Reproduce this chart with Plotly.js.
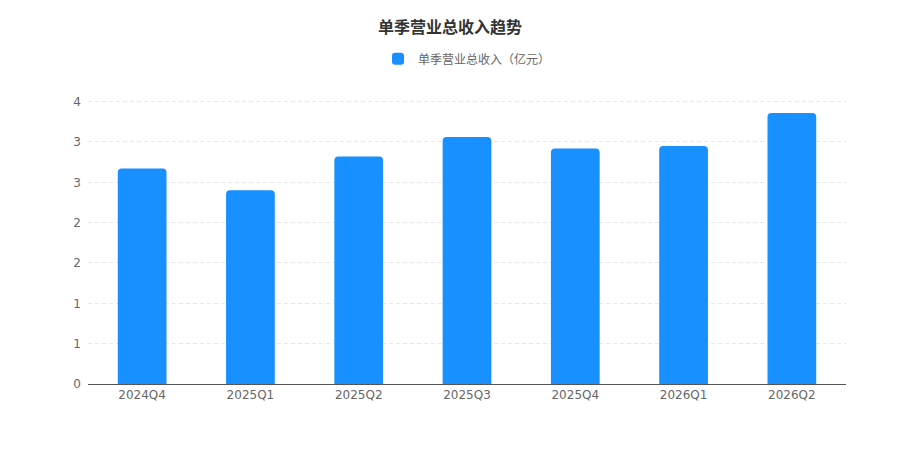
<!DOCTYPE html>
<html>
<head>
<meta charset="utf-8">
<script src="https://cdn.plot.ly/plotly-3.0.1.min.js"></script>
<style>html,body{margin:0;padding:0;background:#fff;}#chart{width:900px;height:450px;}</style>
</head>
<body>
<div id="chart"></div>
<script>
var quarters = ["2024Q4", "2025Q1", "2025Q2", "2025Q3", "2025Q4", "2026Q1", "2026Q2"];
var revenue = [2.67, 2.40, 2.82, 3.06, 2.92, 2.95, 3.36];
var seriesName = "单季营业总收入（亿元）";
var chartTitle = "单季营业总收入趋势";

var fontFam = "DejaVu Sans, Noto Sans CJK SC, sans-serif";

var trace = {
  type: "bar",
  x: quarters,
  y: revenue,
  name: seriesName,
  marker: {color: "#1890ff", cornerradius: 4},
  hoverinfo: "x+y"
};

var layout = {
  width: 900,
  height: 450,
  margin: {l: 88, r: 54, t: 100, b: 66},
  paper_bgcolor: "#ffffff",
  plot_bgcolor: "#ffffff",
  font: {family: fontFam, color: "#666666", size: 12},
  title: {
    text: "<b>" + chartTitle + "</b>",
    x: 0.5, xanchor: "center",
    y: 0.94, yanchor: "middle",
    font: {family: "Noto Sans CJK SC, sans-serif", size: 16, color: "#333333"}
  },
  showlegend: true,
  legend: {
    orientation: "h",
    x: 0.5, xanchor: "center",
    y: 1.145, yanchor: "middle",
    font: {family: "Noto Sans CJK SC, sans-serif", size: 12, color: "#666666"}
  },
  bargap: 0.55,
  xaxis: {
    type: "category",
    showgrid: false,
    showline: true,
    linecolor: "#555555",
    linewidth: 1,
    ticks: "",
    tickfont: {family: fontFam, size: 12, color: "#666666"},
    fixedrange: true
  },
  yaxis: {
    range: [0, 3.52],
    dtick: 0.5,
    tick0: 0,
    tickformat: ".0f",
    showgrid: true,
    gridcolor: "#e8e8e8",
    griddash: "4px,3px",
    gridwidth: 1,
    zeroline: false,
    showline: false,
    ticks: "",
    ticklabelstandoff: 6,
    tickfont: {family: fontFam, size: 12, color: "#666666"},
    fixedrange: true
  }
};

Plotly.newPlot("chart", [trace], layout, {displayModeBar: false});
</script>
</body>
</html>
